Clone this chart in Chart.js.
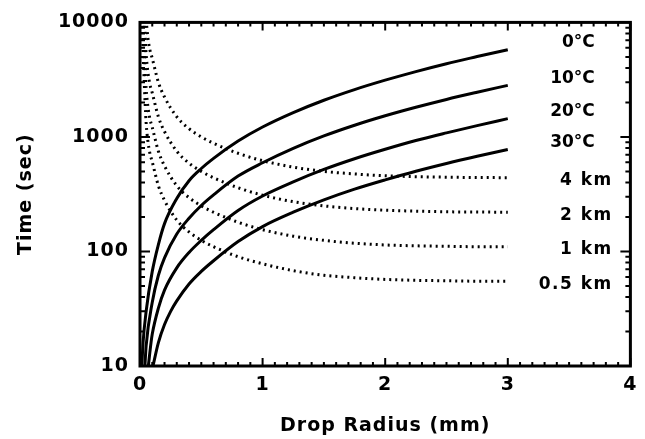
<!DOCTYPE html>
<html><head><meta charset="utf-8">
<script src="https://cdn.jsdelivr.net/npm/chart.js@4"></script>
<style>html,body{margin:0;padding:0;background:#fff;}#wrap{width:645px;height:439px;}</style>
</head><body><div id="wrap"><canvas id="c" width="645" height="439"></canvas></div>
<script>
// Temperature curves (solid): drop radius (mm) vs time (sec)
const r0C  = [0.015,0.025,0.05,0.1,0.15,0.2,0.3,0.4,0.5,0.6,0.8,1.0,1.25,1.5,1.75,2.0,2.25,2.5,2.75,3.0];
const t0C  = [10,16,30,67,115,175,290,415,530,650,920,1220,1630,2090,2590,3130,3720,4360,5030,5780];
const r10C = [0.04,0.05,0.1,0.15,0.2,0.3,0.4,0.5,0.6,0.8,1.0,1.25,1.5,1.75,2.0,2.25,2.5,2.75,3.0];
const t10C = [10,15,36,62,88,142,195,252,312,455,595,795,1020,1265,1530,1815,2125,2455,2820];
const r20C = [0.068,0.09,0.1,0.15,0.2,0.3,0.4,0.5,0.6,0.8,1.0,1.25,1.5,1.75,2.0,2.25,2.5,2.75,3.0];
const t20C = [10,16,19,32,46,72,98,125,155,228,305,405,520,645,780,930,1085,1255,1445];
const r30C = [0.106,0.15,0.2,0.25,0.3,0.4,0.5,0.6,0.8,1.0,1.25,1.5,1.75,2.0,2.25,2.5,2.75,3.0];
const t30C = [10,16,23,30,37,52,67,83,122,165,220,282,350,422,502,587,678,776];
// Fall-height curves (dotted)
const r4km  = [0.05,0.065,0.08,0.1,0.15,0.2,0.3,0.4,0.5,0.6,0.8,1.0,1.25,1.5,1.75,2.0,2.25,2.5,2.75,3.0];
const t4km  = [10500,7260,5800,4850,3000,2230,1500,1180,1000,880,720,620,545,500,475,458,450,445,442,441];
const r2km  = [0.035,0.05,0.065,0.08,0.1,0.15,0.2,0.3,0.4,0.5,0.6,0.8,1.0,1.25,1.5,1.75,2.0,2.25,2.5,2.75,3.0];
const t2km  = [10500,5300,3640,2900,2420,1500,1115,750,590,500,440,360,310,272,250,237,229,225,222,221,220];
const r1km  = [0.025,0.035,0.05,0.065,0.08,0.1,0.15,0.2,0.3,0.4,0.5,0.6,0.8,1.0,1.25,1.5,1.75,2.0,2.25,2.5,2.75,3.0];
const t1km  = [10500,5500,2650,1820,1450,1210,750,558,375,295,250,220,180,155,136,125,118,114,112,111,110,110];
const r05km = [0.018,0.025,0.035,0.05,0.065,0.08,0.1,0.15,0.2,0.3,0.4,0.5,0.6,0.8,1.0,1.25,1.5,1.75,2.0,2.25,2.5,2.75,3.0];
const t05km = [10500,5500,2900,1330,910,725,605,375,279,188,148,125,110,90,78,68,62,59,57,56,55.5,55,55];

const seriesLabels = ['0°C','10°C','20°C','30°C','4 km','2 km','1 km','0.5 km'];
const xTickValues = [0,1,2,3,4];
const yTickValues = [10,100,1000,10000];

const seriesR = [r0C,r10C,r20C,r30C,r4km,r2km,r1km,r05km];
const seriesT = [t0C,t10C,t20C,t30C,t4km,t2km,t1km,t05km];

const FONT = "'DejaVu Sans'";

const datasets = seriesR.map((rs, i) => ({
  label: seriesLabels[i],
  data: rs.map((x, j) => ({x: x, y: seriesT[i][j]})),
  borderColor: '#000',
  borderWidth: 3,
  borderDash: i < 4 ? [] : [2, 4],
  pointRadius: 0,
  fill: false,
  cubicInterpolationMode: 'monotone'
}));

const spacingPlugin = {
  id: 'spacing',
  beforeDraw(chart) { chart.ctx.letterSpacing = '1px'; }
};

const framePlugin = {
  id: 'frame',
  afterDatasetsDraw(chart) {
    const {ctx, chartArea: a, scales: {x, y}} = chart;
    ctx.save();
    ctx.strokeStyle = '#000';
    ctx.lineWidth = 2;
    ctx.beginPath();
    for (let i = 0; i <= 40; i++) {
      const px = x.getPixelForValue(i / 10);
      const len = (i % 10 === 0) ? 8 : 4;
      ctx.moveTo(px, a.bottom); ctx.lineTo(px, a.bottom - len);
      ctx.moveTo(px, a.top); ctx.lineTo(px, a.top + len);
    }
    for (const d of [10, 100, 1000]) {
      for (let m = 1; m <= 9; m++) {
        const py = y.getPixelForValue(d * m);
        const len = m === 1 ? 10 : 5;
        ctx.moveTo(a.left, py); ctx.lineTo(a.left + len, py);
        ctx.moveTo(a.right, py); ctx.lineTo(a.right - len, py);
      }
    }
    ctx.stroke();
    ctx.lineWidth = 3;
    ctx.strokeRect(a.left, a.top, a.right - a.left, a.bottom - a.top);
    ctx.restore();
  }
};

const labelPlugin = {
  id: 'curveLabels',
  afterDraw(chart) {
    const {ctx, scales: {x, y}} = chart;
    ctx.save();
    ctx.fillStyle = '#000';
    ctx.font = "bold 17px " + FONT;
    ctx.textAlign = 'right';
    ctx.textBaseline = 'middle';
    seriesR.forEach((rs, i) => {
      const lastX = rs[rs.length - 1];
      const lastY = seriesT[i][seriesT[i].length - 1];
      const px = x.getPixelForValue(lastX);
      const py = y.getPixelForValue(lastY);
      if (i < 4) {
        ctx.letterSpacing = '0px';
        ctx.fillText(seriesLabels[i], px + 87, py - 7);
      } else {
        ctx.letterSpacing = '1.5px';
        ctx.fillText(seriesLabels[i], px + 105, py + 3);
      }
    });
    ctx.restore();
  }
};

new Chart(document.getElementById('c'), {
  type: 'line',
  data: {datasets},
  options: {
    responsive: false,
    animation: false,
    layout: {padding: {left: 0, right: 13, top: 17, bottom: 0}},
    plugins: {legend: {display: false}, tooltip: {enabled: false}},
    scales: {
      x: {
        type: 'linear', min: 0, max: 4,
        afterBuildTicks: s => { s.ticks = xTickValues.map(v => ({value: v})); },
        afterFit: s => { s.height = 73; },
        grid: {display: false, drawTicks: false},
        border: {display: false},
        ticks: {color: '#000', font: {family: FONT, size: 19, weight: 'bold'}, padding: 8, maxRotation: 0, callback: v => String(v)},
        title: {display: true, text: 'Drop Radius (mm)', color: '#000', font: {family: FONT, size: 19, weight: 'bold'}, padding: {top: 0, bottom: 2}}
      },
      y: {
        type: 'logarithmic', min: 10, max: 10000,
        afterBuildTicks: s => { s.ticks = yTickValues.map(v => ({value: v})); },
        afterFit: s => { s.width = 140; },
        grid: {display: false, drawTicks: false},
        border: {display: false},
        ticks: {color: '#000', font: {family: FONT, size: 19, weight: 'bold'}, padding: 11, callback: v => String(v)},
        title: {display: true, text: 'Time (sec)', color: '#000', font: {family: FONT, size: 19, weight: 'bold'}, padding: {top: 15, bottom: 0}}
      }
    }
  },
  plugins: [spacingPlugin, framePlugin, labelPlugin]
});
</script>
</body></html>
